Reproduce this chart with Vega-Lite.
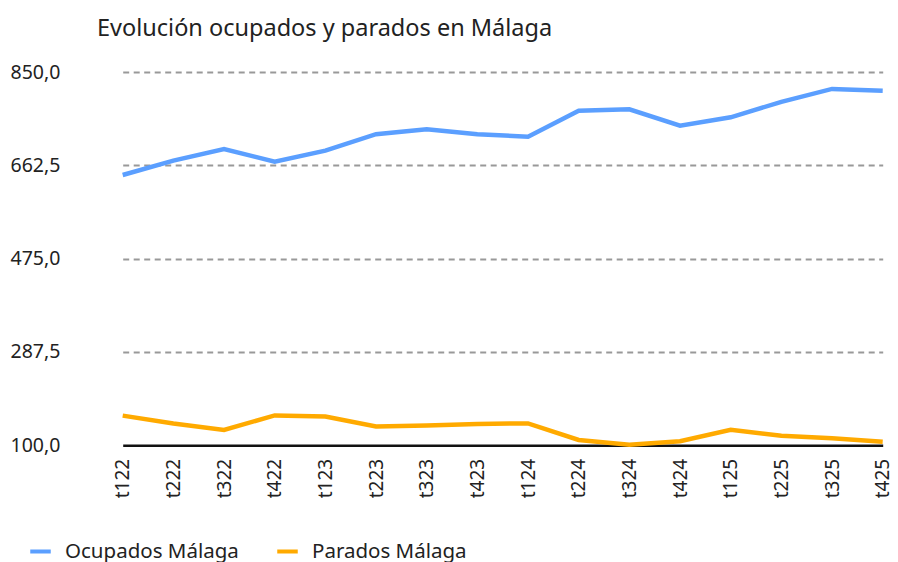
{
  "$schema": "https://vega.github.io/schema/vega-lite/v6.json",
  "autosize": "none",
  "width": 802,
  "height": 373.3,
  "padding": {"left": 96, "top": 72, "right": 0, "bottom": 116.7},
  "background": "white",
  "config": {"view": {"stroke": null}},
  "title": {
    "text": "Evolución ocupados y parados en Málaga",
    "anchor": "start",
    "frame": "group",
    "orient": "top",
    "font": "Noto Sans",
    "fontSize": 23.5,
    "fontWeight": "normal",
    "color": "#222222",
    "offset": 22,
    "dx": 1
  },
  "data": {
    "values": [
      {"t": "t122", "serie": "Ocupados Málaga", "v": 643},
      {"t": "t222", "serie": "Ocupados Málaga", "v": 672},
      {"t": "t322", "serie": "Ocupados Málaga", "v": 695},
      {"t": "t422", "serie": "Ocupados Málaga", "v": 670},
      {"t": "t123", "serie": "Ocupados Málaga", "v": 692},
      {"t": "t223", "serie": "Ocupados Málaga", "v": 725},
      {"t": "t323", "serie": "Ocupados Málaga", "v": 735},
      {"t": "t423", "serie": "Ocupados Málaga", "v": 725},
      {"t": "t124", "serie": "Ocupados Málaga", "v": 720},
      {"t": "t224", "serie": "Ocupados Málaga", "v": 772},
      {"t": "t324", "serie": "Ocupados Málaga", "v": 775},
      {"t": "t424", "serie": "Ocupados Málaga", "v": 742},
      {"t": "t125", "serie": "Ocupados Málaga", "v": 759},
      {"t": "t225", "serie": "Ocupados Málaga", "v": 790},
      {"t": "t325", "serie": "Ocupados Málaga", "v": 816},
      {"t": "t425", "serie": "Ocupados Málaga", "v": 812.5},
      {"t": "t122", "serie": "Parados Málaga", "v": 159.6},
      {"t": "t222", "serie": "Parados Málaga", "v": 144},
      {"t": "t322", "serie": "Parados Málaga", "v": 131},
      {"t": "t422", "serie": "Parados Málaga", "v": 160},
      {"t": "t123", "serie": "Parados Málaga", "v": 158},
      {"t": "t223", "serie": "Parados Málaga", "v": 138},
      {"t": "t323", "serie": "Parados Málaga", "v": 140},
      {"t": "t423", "serie": "Parados Málaga", "v": 143},
      {"t": "t124", "serie": "Parados Málaga", "v": 144},
      {"t": "t224", "serie": "Parados Málaga", "v": 110.7},
      {"t": "t324", "serie": "Parados Málaga", "v": 101},
      {"t": "t424", "serie": "Parados Málaga", "v": 108},
      {"t": "t125", "serie": "Parados Málaga", "v": 131},
      {"t": "t225", "serie": "Parados Málaga", "v": 119},
      {"t": "t325", "serie": "Parados Málaga", "v": 114},
      {"t": "t425", "serie": "Parados Málaga", "v": 107}
    ]
  },
  "mark": {"type": "line", "strokeWidth": 4.5, "strokeJoin": "miter", "clip": false},
  "encoding": {
    "x": {
      "field": "t",
      "type": "ordinal",
      "sort": null,
      "scale": {"type": "point", "padding": 0, "range": [26.7, 786.7]},
      "axis": {
        "title": null,
        "labelAngle": -90,
        "labelAlign": "right",
        "labelBaseline": "middle",
        "labelFont": "Noto Sans",
        "labelFontSize": 19,
        "labelColor": "#222222",
        "labelPadding": 13,
        "ticks": false,
        "domain": true,
        "domainColor": "#111111",
        "domainWidth": 2.5,
        "grid": false
      }
    },
    "y": {
      "field": "v",
      "type": "quantitative",
      "scale": {"domain": [100, 850], "nice": false, "zero": false},
      "axis": {
        "title": null,
        "values": [100, 287.5, 475, 662.5, 850],
        "labelExpr": "replace(format(datum.value, '.1f'), '.', ',')",
        "labelAlign": "left",
        "labelPadding": 86,
        "labelFont": "Noto Sans",
        "labelFontSize": 19.5,
        "labelColor": "#222222",
        "ticks": false,
        "domain": false,
        "grid": true,
        "gridColor": {"condition": {"test": "datum.value == 100", "value": "transparent"}, "value": "#999999"},
        "gridDash": [6, 4.5],
        "gridWidth": 2
      }
    },
    "color": {
      "field": "serie",
      "type": "nominal",
      "scale": {"domain": ["Ocupados Málaga", "Parados Málaga"], "range": ["#5B9FFF", "#FFAA00"]},
      "legend": {
        "title": null,
        "orient": "none",
        "direction": "horizontal",
        "legendX": -68,
        "legendY": 467,
        "symbolType": "stroke",
        "symbolSize": 420,
        "symbolStrokeWidth": 4,
        "labelFont": "Noto Sans",
        "labelFontSize": 20.5,
        "labelColor": "#222222",
        "labelLimit": 400,
        "columnPadding": 30,
        "labelOffset": 12
      }
    }
  }
}
